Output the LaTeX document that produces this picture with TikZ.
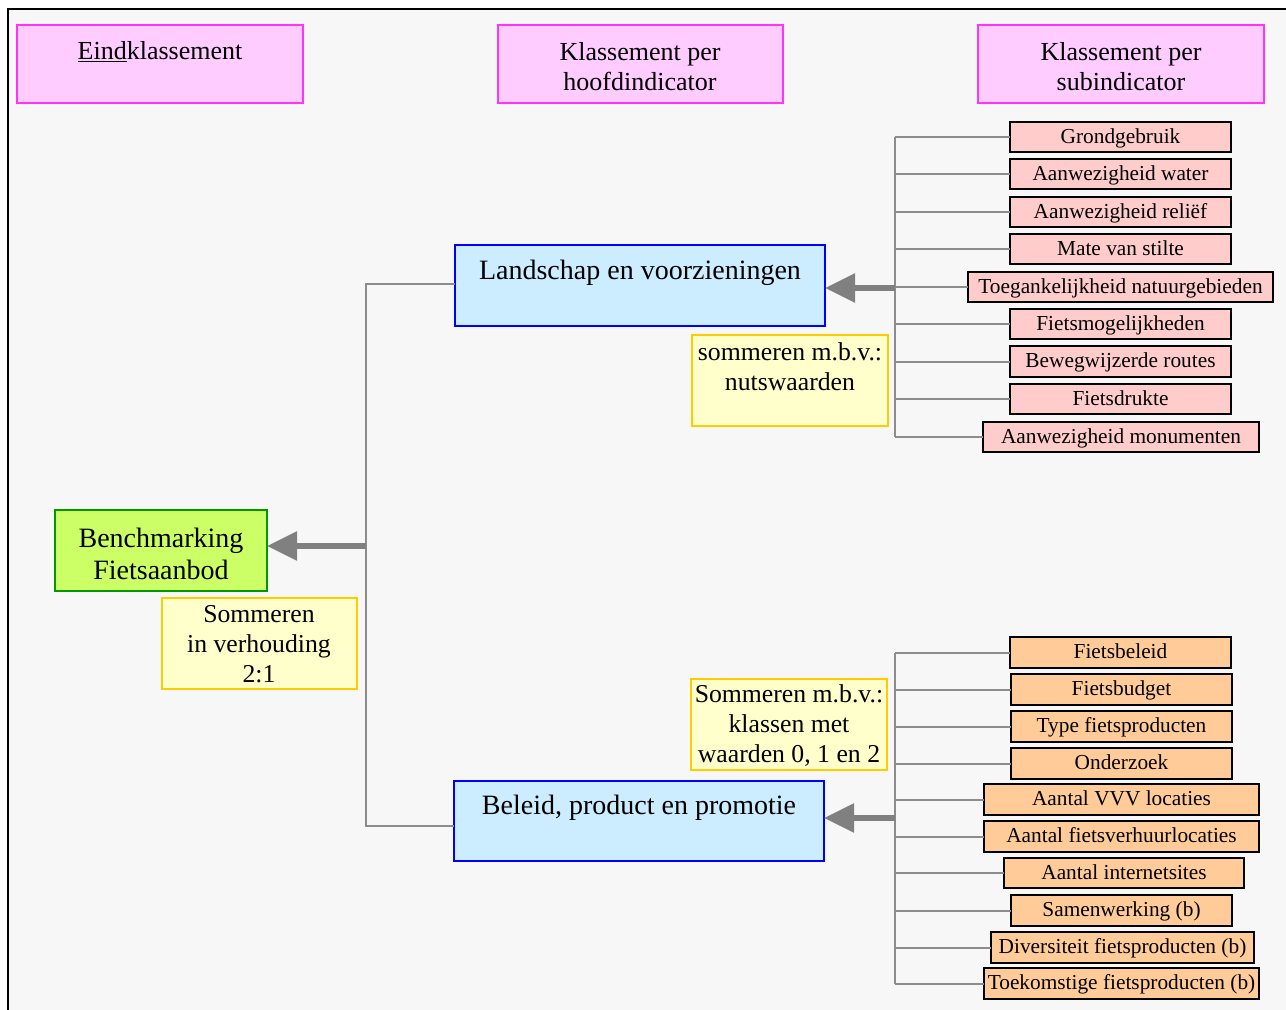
\documentclass[tikz,border=0pt]{standalone}
\usepackage{fontspec}
\setmainfont{Liberation Serif}
\usetikzlibrary{arrows.meta,fit}
\definecolor{bggray}{HTML}{F7F7F7}
\definecolor{hdrfill}{HTML}{FFCCFF}
\definecolor{hdrdraw}{HTML}{FF33FF}
\definecolor{greenfill}{HTML}{CCFF66}
\definecolor{greendraw}{HTML}{009900}
\definecolor{bluefill}{HTML}{CCECFF}
\definecolor{bluedraw}{HTML}{0000FF}
\definecolor{yelfill}{HTML}{FFFFCC}
\definecolor{yeldraw}{HTML}{FFCC00}
\definecolor{pinkfill}{HTML}{FFCCCC}
\definecolor{orangefill}{HTML}{FFCC99}
\definecolor{conngray}{HTML}{8C8C8C}
\definecolor{arrgray}{HTML}{808080}
\newcommand\fsub{\fontsize{16pt}{18pt}\selectfont}
\newcommand\fhdr{\fontsize{19.5pt}{22.5pt}\selectfont}
\newcommand\fbig{\fontsize{21pt}{24pt}\selectfont}
\newcommand\fmid{\fontsize{19.3pt}{22.5pt}\selectfont}
\begin{document}
\begin{tikzpicture}[x=0.75pt,y=-0.75pt,
  box/.style={inner sep=0pt, outer sep=0pt, line width=1.3pt},
  hdrbox/.style={box, draw=hdrdraw, fill=hdrfill},
  greenbox/.style={box, draw=greendraw, fill=greenfill},
  bluebox/.style={box, draw=bluedraw, fill=bluefill},
  yelbox/.style={box, draw=yeldraw, fill=yelfill},
  subA/.style={box, draw=black, fill=pinkfill, line width=1.2pt},
  subB/.style={box, draw=black, fill=orangefill, line width=1.2pt},
  sublabel/.style={font=\fsub, inner sep=0pt, text height=12pt, text depth=2.6pt},
  txt/.style={align=center, inner sep=0pt},
  conn/.style={draw=conngray, line width=1.5pt},
  bigarrow/.style={draw=arrgray, line width=4pt, -{Triangle[length=22.5pt,width=21pt]}}
]
\useasboundingbox (0,0) rectangle (1286,1010);
\clip (0,0) rectangle (1286,1010);
\fill[white] (0,0) rectangle (1286,1010);
\draw[line width=1.5pt, fill=bggray] (8,9) rectangle (1300,1030);

% headers
\node[hdrbox, fit={(17,25) (303,103)}] (h1) {};
\node[txt, font=\fhdr] (h1t) at (160,52) {\underline{Eind}klassement};
\node[hdrbox, fit={(498,25) (783,103)}] (h2) {};
\node[txt, font=\fhdr] (h2t) at (640,67) {Klassement per\\hoofdindicator};
\node[hdrbox, fit={(978,25) (1264,103)}] (h3) {};
\node[txt, font=\fhdr] (h3t) at (1121,67) {Klassement per\\subindicator};

% main boxes
\node[greenbox, fit={(55,510) (267,591)}] (bench) {};
\node[txt, font=\fbig] (bencht) at (161,554) {Benchmarking\\Fietsaanbod};
\node[yelbox, fit={(162,598) (357,689)}] (y1) {};
\node[txt, font=\fmid] (y1t) at (259,644) {Sommeren\\in verhouding\\2:1};

\node[bluebox, fit={(455,245) (825,326)}] (land) {};
\node[txt, font=\fbig] (landt) at (640,273) {Landschap en voorzieningen};
\node[yelbox, fit={(692,335) (888,426)}] (y2) {};
\node[txt, font=\fmid] (y2t) at (790,367) {sommeren m.b.v.:\\nutswaarden};

\node[bluebox, fit={(454,781) (824,861)}] (bel) {};
\node[txt, font=\fbig] (belt) at (639,808) {Beleid, product en promotie};
\node[yelbox, fit={(691,679) (887,770)}] (y3) {};
\node[txt, font=\fmid] (y3t) at (789,726) {Sommeren m.b.v.:\\klassen met\\waarden 0, 1 en 2};

% left tree
\coordinate (busL) at (366,546);
\draw[conn] (land.west |- 0,284) -- (366,284) -- (366,826) -- (bel.west |- 0,826);
\draw[bigarrow] (busL) -- (bench.east |- busL);

% top subindicators
\node[subA, fit={(1010,122) (1231,152)}, label={[sublabel]center:Grondgebruik}] (a1) {};
\node[subA, fit={(1010,159) (1231,189)}, label={[sublabel]center:Aanwezigheid water}] (a2) {};
\node[subA, fit={(1010,197) (1231,227)}, label={[sublabel]center:Aanwezigheid reliëf}] (a3) {};
\node[subA, fit={(1010,234) (1231,264)}, label={[sublabel]center:Mate van stilte}] (a4) {};
\node[subA, fit={(968,272) (1273,302)}, label={[sublabel]center:Toegankelijkheid natuurgebieden}] (a5) {};
\node[subA, fit={(1010,309) (1231,339)}, label={[sublabel]center:Fietsmogelijkheden}] (a6) {};
\node[subA, fit={(1010,346) (1231,377)}, label={[sublabel]center:Bewegwijzerde routes}] (a7) {};
\node[subA, fit={(1010,384) (1231,414)}, label={[sublabel]center:Fietsdrukte}] (a8) {};
\node[subA, fit={(983,422) (1259,452)}, label={[sublabel]center:Aanwezigheid monumenten}] (a9) {};
\coordinate (busA) at (895,288);
\draw[conn] (a1.west -| busA) -- (a9.west -| busA);
\foreach \n in {a1,a2,a3,a4,a5,a6,a7,a8,a9}
  \draw[conn] (\n.west -| busA) -- (\n.west);
\draw[bigarrow] (busA) -- (land.east |- busA);

% bottom subindicators
\node[subB, fit={(1010,637) (1231,668)}, label={[sublabel]center:Fietsbeleid}] (b1) {};
\node[subB, fit={(1011,674) (1232,705)}, label={[sublabel]center:Fietsbudget}] (b2) {};
\node[subB, fit={(1011,711) (1232,742)}, label={[sublabel]center:Type fietsproducten}] (b3) {};
\node[subB, fit={(1011,748) (1232,779)}, label={[sublabel]center:Onderzoek}] (b4) {};
\node[subB, fit={(984,784) (1259,815)}, label={[sublabel]center:Aantal VVV locaties}] (b5) {};
\node[subB, fit={(984,821) (1259,852)}, label={[sublabel]center:Aantal fietsverhuurlocaties}] (b6) {};
\node[subB, fit={(1004,858) (1244,888)}, label={[sublabel]center:Aantal internetsites}] (b7) {};
\node[subB, fit={(1011,895) (1232,926)}, label={[sublabel]center:Samenwerking (b)}] (b8) {};
\node[subB, fit={(991,932) (1254,963)}, label={[sublabel]center:Diversiteit fietsproducten (b)}] (b9) {};
\node[subB, fit={(984,968) (1259,999)}, label={[sublabel]center:Toekomstige fietsproducten (b)}] (b10) {};
\coordinate (busB) at (895,818);
\draw[conn] (b1.west -| busB) -- (b10.west -| busB);
\foreach \n in {b1,b2,b3,b4,b5,b6,b7,b8,b9,b10}
  \draw[conn] (\n.west -| busB) -- (\n.west);
\draw[bigarrow] (busB) -- (bel.east |- busB);
\end{tikzpicture}
\end{document}
